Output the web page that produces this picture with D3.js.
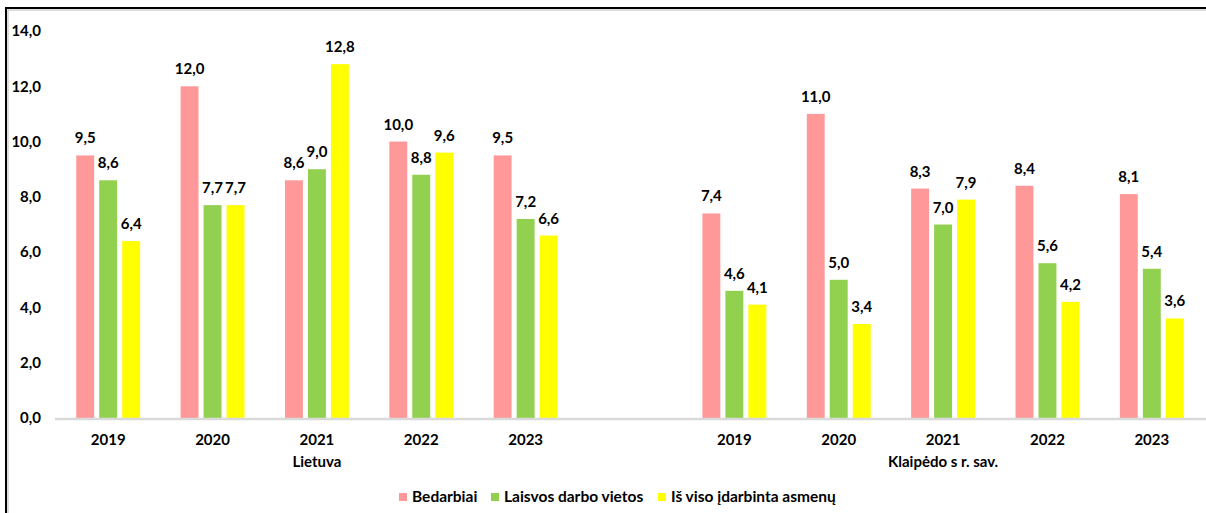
<!DOCTYPE html>
<html><head><meta charset="utf-8">
<script src="https://cdn.jsdelivr.net/npm/d3@7"></script>
<style>
html,body{margin:0;padding:0;background:#fff;}
svg{display:block;font-family:Lato,"Open Sans",sans-serif;font-weight:bold;}
</style></head>
<body><svg id="c" width="1206" height="513"></svg>
<script>
const years = ["2019","2020","2021","2022","2023"];
const regions = ["Lietuva","Klaipėdo s r. sav."];
const seriesNames = ["Bedarbiai","Laisvos darbo vietos","Iš viso įdarbinta asmenų"];
const colors = ["#FF9999","#92D050","#FFFF00"];
const bedarbiai = [9.5,12.0,8.6,10.0,9.5, 7.4,11.0,8.3,8.4,8.1];
const laisvos   = [8.6,7.7,9.0,8.8,7.2, 4.6,5.0,7.0,5.6,5.4];
const isviso    = [6.4,7.7,12.8,9.6,6.6, 4.1,3.4,7.9,4.2,3.6];
const yTicks = [0,2,4,6,8,10,12,14];

const svg = d3.select("#c");
const FS = "15px";

const cats = [];
regions.forEach((r,ri)=>{
  years.forEach(y=>cats.push({key:r+"|"+y, year:y, region:r}));
  if(ri===0) cats.push({key:"gap", year:"", region:""});
});
const dataCats = cats.filter(c=>c.key!=="gap");
const seriesVals = [bedarbiai, laisvos, isviso];

const x0 = d3.scaleBand().domain(cats.map(c=>c.key)).range([56,1204]).paddingInner(0).paddingOuter(0);
const x1 = d3.scaleBand().domain(seriesNames).range([0,x0.bandwidth()]).paddingInner(0.22).paddingOuter(0.88);
const y = d3.scaleLinear().domain([0,14]).range([418,31]);
const fmt = v => d3.format(".1f")(v).replace(".",",");

// border
svg.append("path").attr("d","M6,520 V8 H1210").attr("fill","none").attr("stroke","#000").attr("stroke-width",2);
svg.append("path").attr("d","M8,522 V10 H1212").attr("fill","none").attr("stroke","#bbb").attr("stroke-width",1);

// y axis labels
const yAxis = d3.axisLeft(y).tickValues(yTicks).tickFormat(fmt).tickSize(0).tickPadding(0);
const ya = svg.append("g").attr("transform","translate(41,0)").call(yAxis);
ya.select(".domain").remove();
ya.selectAll("text").attr("font-size",FS).attr("font-family","Lato").attr("font-weight","bold").attr("fill","#000");

// bars
const groups = svg.append("g").selectAll("g").data(dataCats).join("g")
  .attr("transform",d=>`translate(${x0(d.key)},0)`);
seriesNames.forEach((s,si)=>{
  groups.append("rect")
    .attr("x",x1(s)).attr("width",x1.bandwidth())
    .attr("y",(d,i)=>y(seriesVals[si][i]))
    .attr("height",(d,i)=>y(0)-y(seriesVals[si][i]))
    .attr("fill",colors[si]);
  groups.append("text")
    .attr("x",x1(s)+x1.bandwidth()/2)
    .attr("y",(d,i)=>y(seriesVals[si][i])-12)
    .attr("text-anchor","middle").attr("font-size",FS).attr("fill","#000")
    .text((d,i)=>fmt(seriesVals[si][i]));
});

// baseline
svg.append("line").attr("x1",55).attr("x2",1206).attr("y1",y(0)+1).attr("y2",y(0)+1)
  .attr("stroke","#d9d9d9").attr("stroke-width",2.5);

// x axis labels
const xAxis = d3.axisBottom(x0).tickValues(dataCats.map(c=>c.key)).tickFormat(k=>k.split("|")[1]).tickSize(0).tickPadding(0);
const xa = svg.append("g").attr("transform",`translate(0,${y(0)+16})`).call(xAxis);
xa.select(".domain").remove();
xa.selectAll("text").attr("font-size",FS).attr("font-family","Lato").attr("font-weight","bold").attr("fill","#000");

// region labels
regions.forEach(r=>{
  const k = r+"|"+years[2];
  svg.append("text").attr("x",x0(k)+x0.bandwidth()/2).attr("y",467)
    .attr("text-anchor","middle").attr("font-size",FS).attr("fill","#000").text(r);
});

// legend
const leg = svg.append("g");
const legPos = [399, 491, 658];
seriesNames.forEach((s,i)=>{
  const g = leg.append("g").attr("transform",`translate(${legPos[i]},0)`);
  g.append("rect").attr("x",0).attr("y",493).attr("width",8).attr("height",8).attr("fill",colors[i]);
  g.append("text").attr("x",13).attr("y",502).attr("font-size","15.5px").attr("fill","#000").text(s);
});
</script></body></html>
